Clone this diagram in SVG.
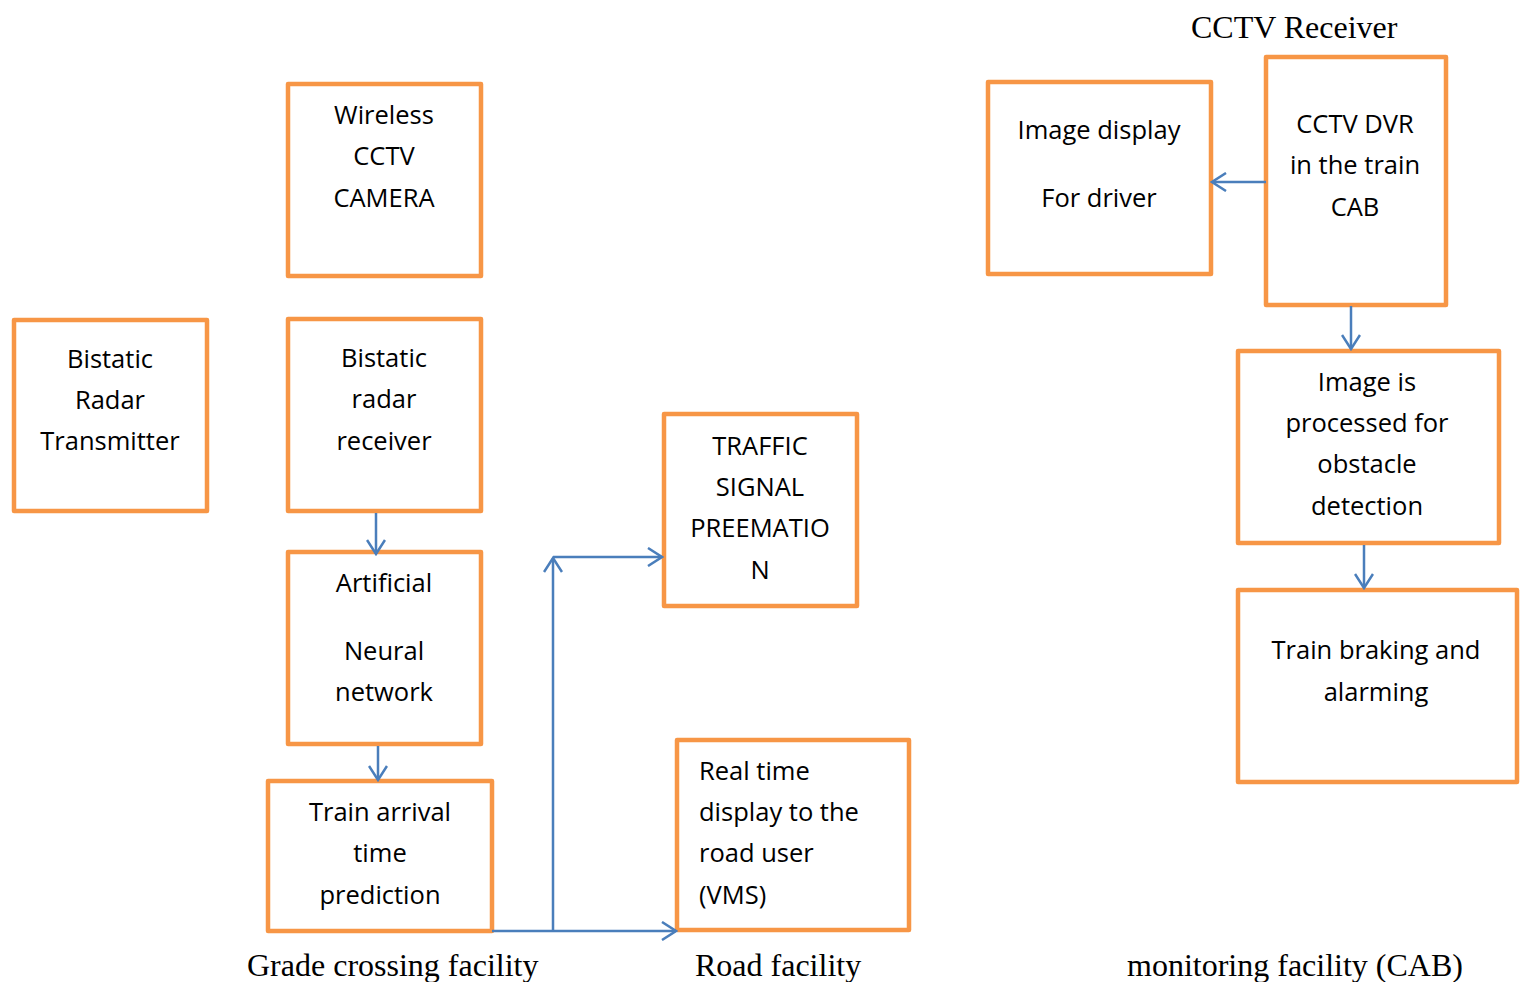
<svg xmlns="http://www.w3.org/2000/svg" width="1520" height="982" viewBox="0 0 1520 982">
  <style>
    .box { fill: #ffffff; stroke: #F79646; stroke-width: 4.5; stroke-linejoin: round; }
    .t { font-family: "Open Sans", "Liberation Sans", sans-serif; font-size: 25.5px; fill: #000000; text-anchor: middle; }
    .tl { text-anchor: start; }
    .cap { font-family: "Liberation Serif", "Times New Roman", serif; font-size: 32px; fill: #000000; }
    .wire { fill: none; stroke: #4A7EBB; stroke-width: 2.5; }
  </style>
  <defs>
    <marker id="arrow" viewBox="0 0 20 20" refX="18" refY="10" markerWidth="20" markerHeight="20" markerUnits="userSpaceOnUse" orient="auto">
      <path d="M4,1 L18,10 L4,19" fill="none" stroke="#4A7EBB" stroke-width="2.5"/>
    </marker>
  </defs>
  <rect width="1520" height="982" fill="#ffffff"/>

  <!-- Grade crossing facility -->
  <g id="wireless-cctv-camera">
    <rect class="box" x="288" y="84" width="193" height="192"/>
    <text class="t" x="384" y="124">Wireless</text>
    <text class="t" x="384" y="165">CCTV</text>
    <text class="t" x="384" y="207">CAMERA</text>
  </g>
  <g id="bistatic-radar-transmitter">
    <rect class="box" x="14" y="320" width="193" height="191"/>
    <text class="t" x="110" y="368">Bistatic</text>
    <text class="t" x="110" y="409">Radar</text>
    <text class="t" x="110" y="450">Transmitter</text>
  </g>
  <g id="bistatic-radar-receiver">
    <rect class="box" x="288" y="319" width="193" height="192"/>
    <text class="t" x="384" y="367">Bistatic</text>
    <text class="t" x="384" y="408">radar</text>
    <text class="t" x="384" y="450">receiver</text>
  </g>
  <g id="artificial-neural-network">
    <rect class="box" x="288" y="552" width="193" height="192"/>
    <text class="t" x="384" y="592">Artificial</text>
    <text class="t" x="384" y="660">Neural</text>
    <text class="t" x="384" y="701">network</text>
  </g>
  <g id="train-arrival-time-prediction">
    <rect class="box" x="268" y="781" width="224" height="150"/>
    <text class="t" x="380" y="821">Train arrival</text>
    <text class="t" x="380" y="862">time</text>
    <text class="t" x="380" y="904">prediction</text>
  </g>

  <!-- Road facility -->
  <g id="traffic-signal-preemption">
    <rect class="box" x="664" y="414" width="193" height="192"/>
    <text class="t" x="760" y="455">TRAFFIC</text>
    <text class="t" x="760" y="496">SIGNAL</text>
    <text class="t" x="760" y="537">PREEMATIO</text>
    <text class="t" x="760" y="579">N</text>
  </g>
  <g id="real-time-display">
    <rect class="box" x="677" y="740" width="232" height="190"/>
    <text class="t tl" x="699" y="780">Real time</text>
    <text class="t tl" x="699" y="821">display to the</text>
    <text class="t tl" x="699" y="862">road user</text>
    <text class="t tl" x="699" y="904">(VMS)</text>
  </g>

  <!-- Monitoring facility (CAB) -->
  <g id="image-display">
    <rect class="box" x="988" y="82" width="223" height="192"/>
    <text class="t" x="1099" y="139">Image display</text>
    <text class="t" x="1099" y="207">For driver</text>
  </g>
  <g id="cctv-dvr">
    <rect class="box" x="1266" y="57" width="180" height="248"/>
    <text class="t" x="1355" y="133">CCTV DVR</text>
    <text class="t" x="1355" y="174">in the train</text>
    <text class="t" x="1355" y="216">CAB</text>
  </g>
  <g id="image-processing">
    <rect class="box" x="1238" y="351" width="261" height="192"/>
    <text class="t" x="1367" y="391">Image is</text>
    <text class="t" x="1367" y="432">processed for</text>
    <text class="t" x="1367" y="473">obstacle</text>
    <text class="t" x="1367" y="515">detection</text>
  </g>
  <g id="train-braking">
    <rect class="box" x="1238" y="590" width="279" height="192"/>
    <text class="t" x="1376" y="659">Train braking and</text>
    <text class="t" x="1376" y="701">alarming</text>
  </g>

  <!-- Connectors -->
  <g id="connectors">
    <path class="wire" d="M376,513 L376,554" marker-end="url(#arrow)"/>
    <path class="wire" d="M378,746 L378,780" marker-end="url(#arrow)"/>
    <path class="wire" d="M492,931 L676,931" marker-end="url(#arrow)"/>
    <path class="wire" d="M553,931 L553,558" marker-end="url(#arrow)"/>
    <path class="wire" d="M553,557 L662,557" marker-end="url(#arrow)"/>
    <path class="wire" d="M1266,182 L1212,182" marker-end="url(#arrow)"/>
    <path class="wire" d="M1351,306 L1351,349" marker-end="url(#arrow)"/>
    <path class="wire" d="M1364,545 L1364,588" marker-end="url(#arrow)"/>
  </g>

  <!-- Section captions -->
  <g id="captions">
    <text class="cap" x="1191" y="38">CCTV Receiver</text>
    <text class="cap" x="247" y="976">Grade crossing facility</text>
    <text class="cap" x="695" y="976">Road facility</text>
    <text class="cap" x="1127" y="976">monitoring facility (CAB)</text>
  </g>
</svg>
